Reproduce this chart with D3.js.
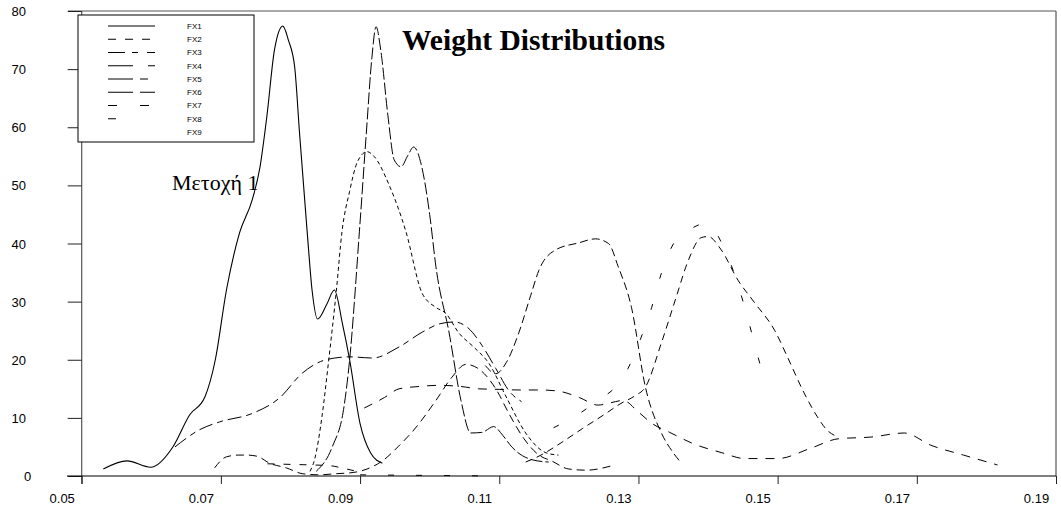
<!DOCTYPE html>
<html><head><meta charset="utf-8">
<script src="https://cdn.jsdelivr.net/npm/d3@7"></script>
<style>body{margin:0;background:#fff}svg{display:block}</style>
</head><body><svg id="c" width="1061" height="511"></svg>
<script>
// ---------- data ----------
const xTicks = [0.05,0.07,0.09,0.11,0.13,0.15,0.17,0.19];
const yTicks = [0,10,20,30,40,50,60,70,80];
const legendNames = ["FX1","FX2","FX3","FX4","FX5","FX6","FX7","FX8","FX9"];
const titleText = "Weight Distributions";
const noteText = "Μετοχή 1";

// FX1 (solid)
const fx1X = [0.0531,0.0565,0.0599,0.0631,0.0655,0.0677,0.0692,0.0708,0.0727,0.0745,0.0756,0.0766,0.0777,0.0789,0.0797,0.0806,0.0813,0.0824,0.0831,0.0839,0.0852,0.0863,0.0875,0.0885,0.0900,0.0915,0.0932];
const fx1Y = [1.2,2.6,1.5,5,10.5,13.6,20,32,41.9,47.5,53,61.8,73.3,77.4,75,70.4,59,42,32,27,29.5,32,26,20,9,4,2.2];
// FX2 (short dashes, peak ~55)
const fx2X = [0.0828,0.0835,0.0845,0.0855,0.0866,0.0874,0.0885,0.0896,0.0910,0.0920,0.0942,0.0966,0.0989,0.1009,0.1023,0.1042,0.1065,0.1085,0.1110,0.1138,0.1167,0.1185];
const fx2Y = [0.8,3,10,20,32,42,49,54,55.8,55,50,42,31.5,29,28,24.6,22,19.4,13.6,7.4,4,3.6];
// FX3 (flat ~15 with long tail)
const fx3X = [0.0906,0.0935,0.0956,0.0985,0.1013,0.1045,0.1070,0.1100,0.1127,0.1160,0.1185,0.1215,0.1242,0.1260,0.1278,0.1300,0.1320,0.1345,0.1380,0.1420,0.1453,0.1500,0.1548,0.1587,0.1634,0.1682,0.1720,0.1767,0.1816];
const fx3Y = [11.7,13.5,15,15.4,15.6,15.4,15,14.9,14.8,14.8,14.6,13.5,12.2,12.6,13,11,9,7.5,5.5,4,3,3,4.8,6.4,6.7,7.4,5.3,3.6,1.9];
// FX4 (sparse dashes, peak ~43.5)
const fx4X = [0.1178,0.1230,0.1285,0.1304,0.1319,0.1333,0.1352,0.1375,0.1398,0.1420,0.1443,0.1457,0.1469,0.1482];
const fx4Y = [8.3,12,18.5,23.9,29,34.9,40.3,42.5,43.5,40,32.9,27.2,21.7,16.2];
// FX5 (dash-dot, broad ~26)
const fx5X = [0.0634,0.0670,0.0698,0.0746,0.0784,0.0817,0.0851,0.0885,0.0918,0.0956,0.0990,0.1015,0.1035,0.1055,0.1075,0.1095,0.1115,0.1132];
const fx5Y = [5,8,9.3,10.8,13.4,17.7,20,20.5,20.3,22.2,24.8,26.2,26.5,25.5,22.5,18.5,14.5,12.8];
// FX6 (long dashes, peak ~77)
const fx6X = [0.0837,0.0860,0.0877,0.0885,0.0899,0.0909,0.0917,0.0923,0.0930,0.0940,0.0949,0.0959,0.0968,0.0977,0.0989,0.1000,0.1009,0.1028,0.1045,0.1059,0.1075,0.1092,0.1105,0.1118,0.1147,0.1171];
const fx6Y = [0.8,5,12,20,42,59,72,77.3,73,62,54.4,53.2,55,56.6,53,45,36,24.6,13,7.4,7.5,8.5,7,5,2.8,2.4];
// FX7 (medium dashes, small hump then peak ~19)
const fx7X = [0.0691,0.0708,0.0725,0.0737,0.0752,0.0770,0.0794,0.0817,0.0840,0.0866,0.0890,0.0910,0.0932,0.0960,0.0975,0.1009,0.1032,0.1052,0.1075,0.1095,0.1115,0.1135,0.1157,0.1175,0.1200,0.1225,0.1260];
const fx7Y = [1.4,3.3,3.6,3.6,3.4,2.2,1.4,0.4,0.2,0.4,0.6,1.2,2.6,5.7,7.6,13,17,19.2,18,15,10.5,6.5,3.6,2.6,1.2,1.0,1.7];
// FX8 (short pieces near the base)
const fx8X = [0.0767,0.0800,0.0830,0.0855,0.0877,0.0895];
const fx8Y = [2.1,2.0,1.9,1.8,1.3,0.8];
// FX9 (near zero)
const fx9X = [0.0900,0.0950,0.1000,0.1050,0.1080];
const fx9Y = [0.2,0.15,0.1,0.05,0.0];
// second-group curves
const fxAX = [0.1080,0.1095,0.1110,0.1128,0.1145,0.1157,0.1181,0.1214,0.1238,0.1257,0.1271,0.1290,0.1310,0.1333,0.1350,0.1362];
const fxAY = [19,17.6,19.5,24.6,31,35.4,38.9,40.1,40.8,40,36,29,15.3,7.4,4,2.2];
const fxBX = [0.1138,0.1160,0.1190,0.1220,0.1250,0.1275,0.1295,0.1310,0.1333,0.1353,0.1372,0.1390,0.1400,0.1419,0.1443,0.1467,0.1496,0.1514,0.1538,0.1557,0.1571,0.1585];
const fxBY = [2.4,3.6,5.8,8.2,10.5,12.5,13.8,15.3,22.9,30.3,37.2,41,41.2,38.9,33.7,29.8,25,20.5,14.3,10.2,7.9,6.8];

// ---------- drawing ----------
const svg = d3.select("#c");
const x = d3.scaleLinear().domain([0.05,0.19]).range([81.7,1056]);
const y = d3.scaleLinear().domain([0,80]).range([476,11]);

const curves = [
  {xs:fx1X, ys:fx1Y, dash:null, w:1.1},
  {xs:fx2X, ys:fx2Y, dash:"4,3"},
  {xs:fx3X, ys:fx3Y, dash:"9,8"},
  {xs:fx4X, ys:fx4Y, dash:"6,26"},
  {xs:fx5X, ys:fx5Y, dash:"14,5,6,5"},
  {xs:fx6X, ys:fx6Y, dash:"12,3"},
  {xs:fx7X, ys:fx7Y, dash:"8,5"},
  {xs:fx8X, ys:fx8Y, dash:"7,9"},
  {xs:fx9X, ys:fx9Y, dash:"6,22"},
  {xs:fxAX, ys:fxAY, dash:"8,4"},
  {xs:fxBX, ys:fxBY, dash:"7,5"}
];

// frame: top & right
svg.append("line").attr("x1",68).attr("x2",x(0.19)).attr("y1",y(80)).attr("y2",y(80)).attr("stroke","#555").attr("stroke-width",1.2);
svg.append("line").attr("x1",x(0.19)).attr("x2",x(0.19)).attr("y1",y(80)).attr("y2",y(0)).attr("stroke","#555").attr("stroke-width",1.2);

// y axis
const yAxis = d3.axisLeft(y).tickValues(yTicks).tickSize(14).tickPadding(0).tickFormat(d3.format("d"));
const gy = svg.append("g").attr("transform",`translate(${x(0.05)},0)`).call(yAxis);
gy.select(".domain").attr("stroke","#555").attr("stroke-width",1.2).attr("d",`M0,${y(80)}V${y(0)+8}`);
gy.selectAll(".tick line").attr("stroke","#222");
gy.selectAll(".tick text").attr("font-family","Liberation Sans, Arial, sans-serif").attr("font-size",13).attr("fill","#000")
  .attr("text-anchor","middle").attr("x",d=>d===0?-54:-63).attr("dy","0.35em");

// x axis
const xAxis = d3.axisBottom(x).tickValues(xTicks).tickSize(8).tickFormat(d3.format(".2f"));
const gx = svg.append("g").attr("transform",`translate(0,${y(0)})`).call(xAxis);
gx.select(".domain").attr("stroke","#000").attr("stroke-width",1.2).attr("d",`M67,0H${x(0.19)}`);
gx.selectAll(".tick line").attr("stroke","#222");
gx.selectAll(".tick text").attr("font-family","Liberation Sans, Arial, sans-serif").attr("font-size",13).attr("fill","#000")
  .attr("x",-20).attr("y",27).attr("dy",0);

// curves
const line = d3.line().x(d=>x(d[0])).y(d=>y(d[1])).curve(d3.curveMonotoneX);
curves.forEach(c=>{
  const pts = c.xs.map((v,i)=>[v,c.ys[i]]);
  svg.append("path").attr("d",line(pts)).attr("fill","none").attr("stroke","#000")
    .attr("stroke-width",c.w||1).attr("stroke-dasharray",c.dash);
});

// legend
const legendDash = [null,"8,9","17,7,6,9","25,15,7,15","25,7,8,20","25,7,25,7","9,23","8,60","0,100"];
const lg = svg.append("g");
lg.append("rect").attr("x",78).attr("y",15).attr("width",176).attr("height",127).attr("fill","#fff").attr("stroke","#000").attr("stroke-width",1);
const ly = d3.scalePoint().domain(legendNames).range([26,132]);
legendNames.forEach((n,i)=>{
  lg.append("line").attr("x1",108).attr("x2",155).attr("y1",ly(n)).attr("y2",ly(n))
    .attr("stroke","#000").attr("stroke-width",1).attr("stroke-dasharray",legendDash[i]);
  lg.append("text").attr("x",187).attr("y",ly(n)).attr("dy","0.35em").attr("font-family","Liberation Sans, Arial, sans-serif")
    .attr("font-size",8).attr("fill","#000").text(n);
});

// title & note
svg.append("text").attr("x",402).attr("y",50).attr("font-family","Liberation Serif, Times New Roman, serif")
  .attr("font-weight","bold").attr("font-size",29.5).attr("fill","#000").text(titleText);
svg.append("text").attr("x",172).attr("y",190).attr("font-family","Liberation Serif, Times New Roman, serif")
  .attr("font-size",22).attr("fill","#000").text(noteText);
</script></body></html>
